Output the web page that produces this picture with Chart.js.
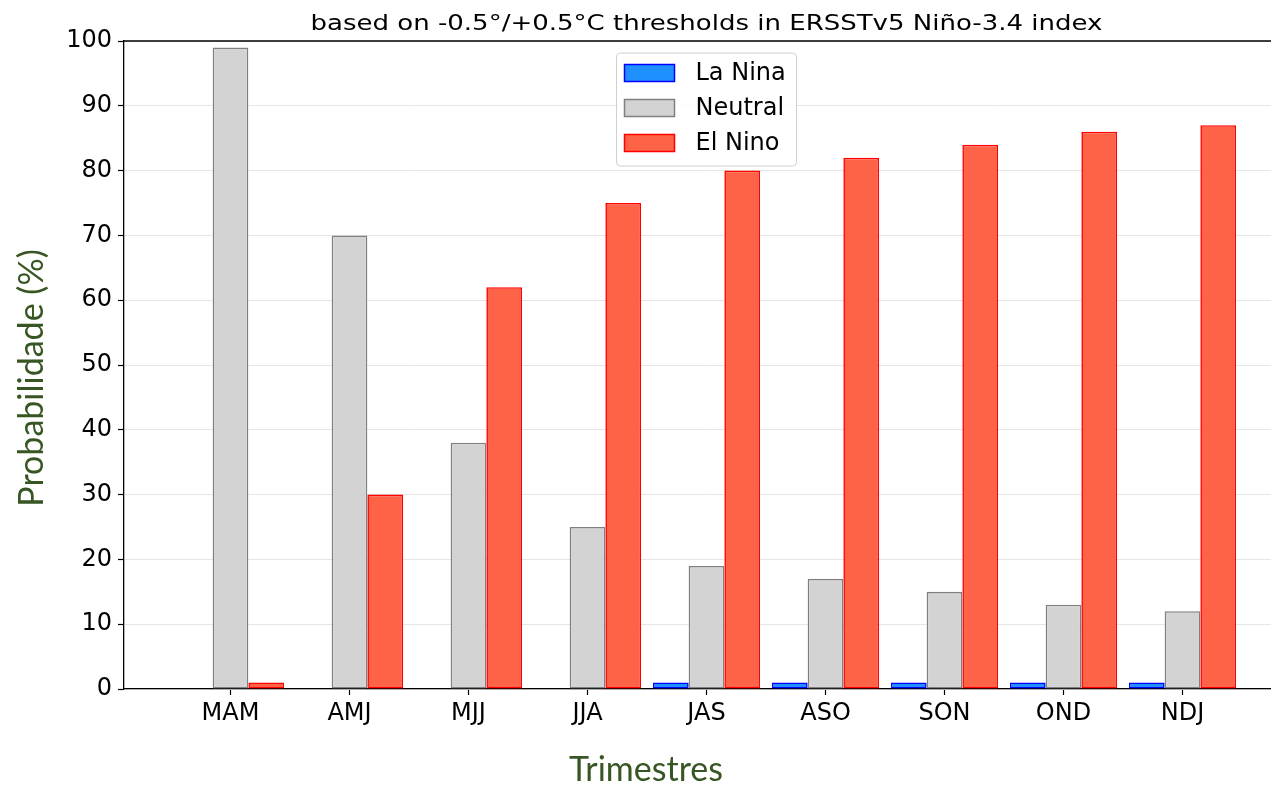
<!DOCTYPE html>
<html>
<head>
<meta charset="utf-8">
<script src="https://cdn.jsdelivr.net/npm/chart.js@4"></script>
<style>
  html, body { margin: 0; padding: 0; background: #fff; overflow: hidden; }
  #wrap { width: 1300px; height: 785px; }
</style>
</head>
<body>
<div id="wrap"><canvas id="barChart"></canvas></div>
<script>
// Trimestres e probabilidades (%)
const trimestres = ['MAM', 'AMJ', 'MJJ', 'JJA', 'JAS', 'ASO', 'SON', 'OND', 'NDJ'];
const laNina = [0, 0, 0, 0, 1, 1, 1, 1, 1];
const neutral = [99, 70, 38, 25, 19, 17, 15, 13, 12];
const elNino = [1, 30, 62, 75, 80, 82, 84, 86, 87];

const titulo = 'based on -0.5°/+0.5°C thresholds in ERSSTv5 Niño-3.4 index';
const verde = '#375623';

const toPoints = arr => arr.map((v, i) => ({ x: i, y: v }));

// Plugin: titulo, eixo superior, titulos dos eixos e legenda dentro do grafico
const decor = {
    id: 'decor',
    afterDraw(chart) {
        const ctx = chart.ctx;
        const a = chart.chartArea;
        ctx.save();

        // linha superior
        ctx.strokeStyle = '#000';
        ctx.lineWidth = 1.3;
        ctx.beginPath();
        ctx.moveTo(a.left, a.top);
        ctx.lineTo(a.right, a.top);
        ctx.stroke();

        // titulo (um pouco esticado na horizontal, como no original)
        ctx.fillStyle = '#000';
        ctx.font = '22px "DejaVu Sans"';
        ctx.textAlign = 'center';
        ctx.textBaseline = 'middle';
        const sx = 792 / ctx.measureText(titulo).width;
        ctx.save();
        ctx.translate((a.left + a.right) / 2, 24);
        ctx.scale(sx, 1);
        ctx.fillText(titulo, 0, 0);
        ctx.restore();

        // titulos dos eixos
        ctx.fillStyle = verde;
        ctx.font = '34px Lato';
        ctx.fillText('Trimestres', 646, 770);
        ctx.save();
        ctx.translate(32, 378);
        ctx.rotate(-Math.PI / 2);
        ctx.fillText('Probabilidade (%)', 0, 0);
        ctx.restore();

        // legenda
        const w = 180, h = 113;
        const bx = (a.left + a.right) / 2 - w / 2;
        const by = a.top + 12;
        ctx.fillStyle = 'rgba(255,255,255,0.8)';
        ctx.strokeStyle = '#d0d0d0';
        ctx.lineWidth = 1;
        ctx.beginPath();
        ctx.roundRect(bx, by, w, h, 4);
        ctx.fill();
        ctx.stroke();
        ctx.font = '24px "DejaVu Sans"';
        ctx.textAlign = 'left';
        chart.data.datasets.forEach((ds, i) => {
            const cy = by + 20 + i * 35;
            ctx.fillStyle = ds.backgroundColor;
            ctx.strokeStyle = ds.borderColor;
            ctx.lineWidth = 1.5;
            ctx.fillRect(bx + 8, cy - 8.5, 50, 17);
            ctx.strokeRect(bx + 8, cy - 8.5, 50, 17);
            ctx.fillStyle = '#000';
            ctx.fillText(ds.label, bx + 79, cy + 1);
        });
        ctx.restore();
    }
};

const ctx = document.getElementById('barChart').getContext('2d');

const data = {
    datasets: [
        {
            label: 'La Nina',
            data: toPoints(laNina),
            backgroundColor: '#1E90FF',
            borderColor: '#0000FF',
            borderWidth: 1.6,
            borderSkipped: false
        },
        {
            label: 'Neutral',
            data: toPoints(neutral),
            backgroundColor: '#D3D3D3',
            borderColor: '#808080',
            borderWidth: 1.6,
            borderSkipped: false
        },
        {
            label: 'El Nino',
            data: toPoints(elNino),
            backgroundColor: '#FF6347',
            borderColor: '#FF0000',
            borderWidth: 1.6,
            borderSkipped: false
        }
    ]
};

const config = {
    type: 'bar',
    data: data,
    options: {
        responsive: true,
        maintainAspectRatio: false,
        animation: false,
        categoryPercentage: 0.9,
        barPercentage: 1.0,
        layout: { padding: { top: 41, right: 11, left: 0, bottom: 0 } },
        plugins: {
            legend: { display: false },
            title: { display: false },
            tooltip: { enabled: false }
        },
        scales: {
            x: {
                type: 'linear',
                min: -0.895,
                max: 8.895,
                offset: false,
                grid: { offset: false, drawOnChartArea: false, tickLength: 6, tickColor: '#000', tickWidth: 1.2 },
                border: { color: '#000', width: 1.3 },
                ticks: {
                    stepSize: 1,
                    includeBounds: false,
                    autoSkip: false,
                    maxRotation: 0,
                    color: '#000',
                    padding: 4,
                    font: { family: 'DejaVu Sans', size: 24 },
                    callback: v => trimestres[v] ?? ''
                },
                afterBuildTicks: s => {
                    s.ticks = s.ticks.filter(t => Number.isInteger(t.value) && t.value >= 0 && t.value < trimestres.length);
                },
                afterFit: s => { s.height = 96; }
            },
            y: {
                min: 0,
                max: 100,
                grid: { color: '#e6e6e6', lineWidth: 1, tickLength: 6, tickColor: '#000', tickWidth: 1.2 },
                border: { color: '#000', width: 1.3 },
                ticks: {
                    stepSize: 10,
                    color: '#000',
                    padding: 6,
                    font: { family: 'DejaVu Sans', size: 24 }
                },
                afterFit: s => { s.width = 124; }
            }
        }
    },
    plugins: [decor]
};

const barChart = new Chart(ctx, config);
</script>
</body>
</html>
